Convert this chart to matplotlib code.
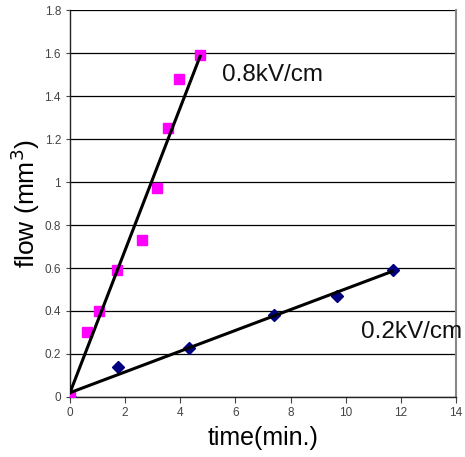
import matplotlib.pyplot as plt
import numpy as np

plt.rcParams['font.family'] = ['Liberation Sans', 'DejaVu Sans']

# 0.8 kV/cm series (magenta squares)
t_high = [0, 0.6, 1.05, 1.7, 2.6, 3.15, 3.55, 3.95, 4.7]
flow_high = [0, 0.30, 0.40, 0.59, 0.73, 0.97, 1.25, 1.48, 1.59]
# 0.2 kV/cm series (navy diamonds)
t_low = [0, 1.75, 4.3, 7.4, 9.7, 11.7]
flow_low = [0, 0.14, 0.23, 0.38, 0.47, 0.59]
# trend lines (end points)
fit_high_t = [0, 4.72]
fit_high_f = [0.02, 1.585]
fit_low_t = [0, 11.7]
fit_low_f = [0.02, 0.585]

xticks = [0, 2, 4, 6, 8, 10, 12, 14]
yticks = [0, 0.2, 0.4, 0.6, 0.8, 1.0, 1.2, 1.4, 1.6, 1.8]
ylabels = ['0', '0.2', '0.4', '0.6', '0.8', '1', '1.2', '1.4', '1.6', '1.8']

fig = plt.figure(figsize=(4.65, 4.57), dpi=100)
ax = fig.add_axes([0.1505, 0.1313, 0.8301, 0.8468])

for y in yticks:
    ax.axhline(y, color='black', lw=0.9, zorder=1)

ax.plot(t_low, flow_low, 'D', color='#000080', markersize=6, zorder=3, linestyle='none')
ax.plot(t_high, flow_high, 's', color='#FF00FF', markersize=7.5, zorder=3, linestyle='none')
ax.plot(fit_high_t, fit_high_f, color='black', lw=2.2, zorder=4)
ax.plot(fit_low_t, fit_low_f, color='black', lw=2.2, zorder=4)

ax.text(5.5, 1.50, '0.8kV/cm', fontsize=17.5, va='center', ha='left', color='#111111')
ax.text(10.55, 0.30, '0.2kV/cm', fontsize=17.5, va='center', ha='left', color='#111111', clip_on=False)

ax.set_xlim(0, 14)
ax.set_ylim(0, 1.8)
ax.set_xticks(xticks)
ax.set_yticks(yticks)
ax.set_yticklabels(ylabels)
ax.tick_params(labelsize=8.5, colors='#444444', length=4, width=0.8)
ax.tick_params(axis='y', length=3)

for s in ['left', 'bottom']:
    ax.spines[s].set_color('#222222')
    ax.spines[s].set_linewidth(1.0)
ax.spines['right'].set_color('#888888')
ax.spines['right'].set_linewidth(1.5)
ax.spines['top'].set_visible(False)

ax.set_xlabel('time(min.)', fontsize=18, labelpad=5)
ax.set_ylabel('flow (mm$^3$)', fontsize=19, labelpad=2)

fig.savefig('out.png', dpi=100)
